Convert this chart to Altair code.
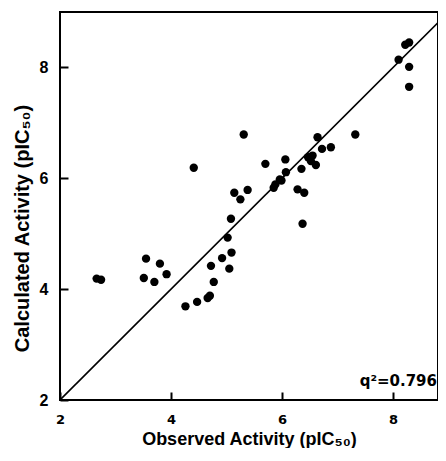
import altair as alt
import pandas as pd

observed = [2.66, 2.74, 3.51, 3.55, 3.70, 3.80, 3.92, 4.26, 4.47, 4.66, 4.70, 4.77,
            4.72, 4.92, 5.05, 5.09, 5.02, 5.08, 4.41, 5.14, 5.25, 5.38, 5.31, 5.70,
            5.85, 5.88, 5.96, 5.99, 6.07, 6.06, 6.28, 6.40, 6.37, 6.35, 6.47, 6.55,
            6.52, 6.61, 6.64, 6.72, 6.88, 7.32, 8.10, 8.22, 8.29, 8.29, 8.29]
calculated = [4.19, 4.17, 4.20, 4.55, 4.13, 4.46, 4.27, 3.69, 3.77, 3.84, 3.88, 4.13,
              4.42, 4.56, 4.37, 4.66, 4.93, 5.27, 6.19, 5.74, 5.62, 5.79, 6.79, 6.26,
              5.83, 5.89, 5.98, 5.96, 6.11, 6.34, 5.80, 5.74, 5.18, 6.17, 6.38, 6.41,
              6.31, 6.24, 6.74, 6.53, 6.56, 6.79, 8.14, 8.41, 8.45, 8.01, 7.65]
line_vals = [2, 9]
axis_tick_labels = [2, 4, 6, 8]
annotation = "q\u00b2=0.796"
x_max = 8.81

pts = pd.DataFrame({"obs": observed, "calc": calculated})
line_df = pd.DataFrame({"obs": line_vals, "calc": line_vals})
ann_df = pd.DataFrame({"t": [annotation]})

xscale = alt.Scale(domain=[2, x_max], nice=False, zero=False)
yscale = alt.Scale(domain=[2, 9], nice=False, zero=False)

# axes pulled 8px into the plot so their ticks point inward from the frame
xaxis = alt.Axis(values=axis_tick_labels, format="d", title="Observed Activity (pIC\u2085\u2080)",
                 grid=False, ticks=True, tickSize=8, tickWidth=2, tickColor="black",
                 domain=False, offset=-8, labelFlush=False, zindex=2,
                 labelFont="DejaVu Sans", labelFontSize=13, labelFontWeight="bold",
                 labelColor="black", labelPadding=13,
                 titleFont="Liberation Sans", titleFontSize=18, titleFontWeight="bold",
                 titleColor="black", titleY=47, titleBaseline="middle")
yaxis = alt.Axis(values=axis_tick_labels, format="d", title="Calculated Activity (pIC\u2085\u2080)",
                 grid=False, ticks=True, tickSize=8, tickWidth=2, tickColor="black",
                 domain=False, offset=-8, labelFlush=False, zindex=2,
                 labelFont="Liberation Sans", labelFontSize=16, labelFontWeight="bold",
                 labelColor="black", labelPadding=12,
                 titleFont="Liberation Sans", titleFontSize=20, titleFontWeight="bold",
                 titleColor="black", titleX=-46, titleY=216, titleBaseline="middle")

points = alt.Chart(pts).mark_circle(color="black", opacity=1, size=70).encode(
    x=alt.X("obs:Q", scale=xscale, axis=xaxis),
    y=alt.Y("calc:Q", scale=yscale, axis=yaxis),
)

diag = alt.Chart(line_df).mark_line(color="black", strokeWidth=1.6, clip=True).encode(
    x=alt.X("obs:Q", scale=xscale),
    y=alt.Y("calc:Q", scale=yscale),
)

ann = alt.Chart(ann_df).mark_text(font="DejaVu Sans", fontSize=15, fontWeight="bold",
                                  align="right", baseline="alphabetic", color="black",
                                  dx=-1, dy=-14).encode(
    x=alt.XDatum(x_max),
    y=alt.YDatum(2),
    text="t:N",
)

chart = alt.layer(diag, points, ann).properties(
    width=378, height=388,
    autosize=alt.AutoSizeParams(type="none"),
    padding={"left": 52, "top": 4, "right": 0, "bottom": 48},
    background="white",
).configure_view(stroke="black", strokeWidth=2)

chart.save("out.html", embed_options={"renderer": "svg", "actions": False})
